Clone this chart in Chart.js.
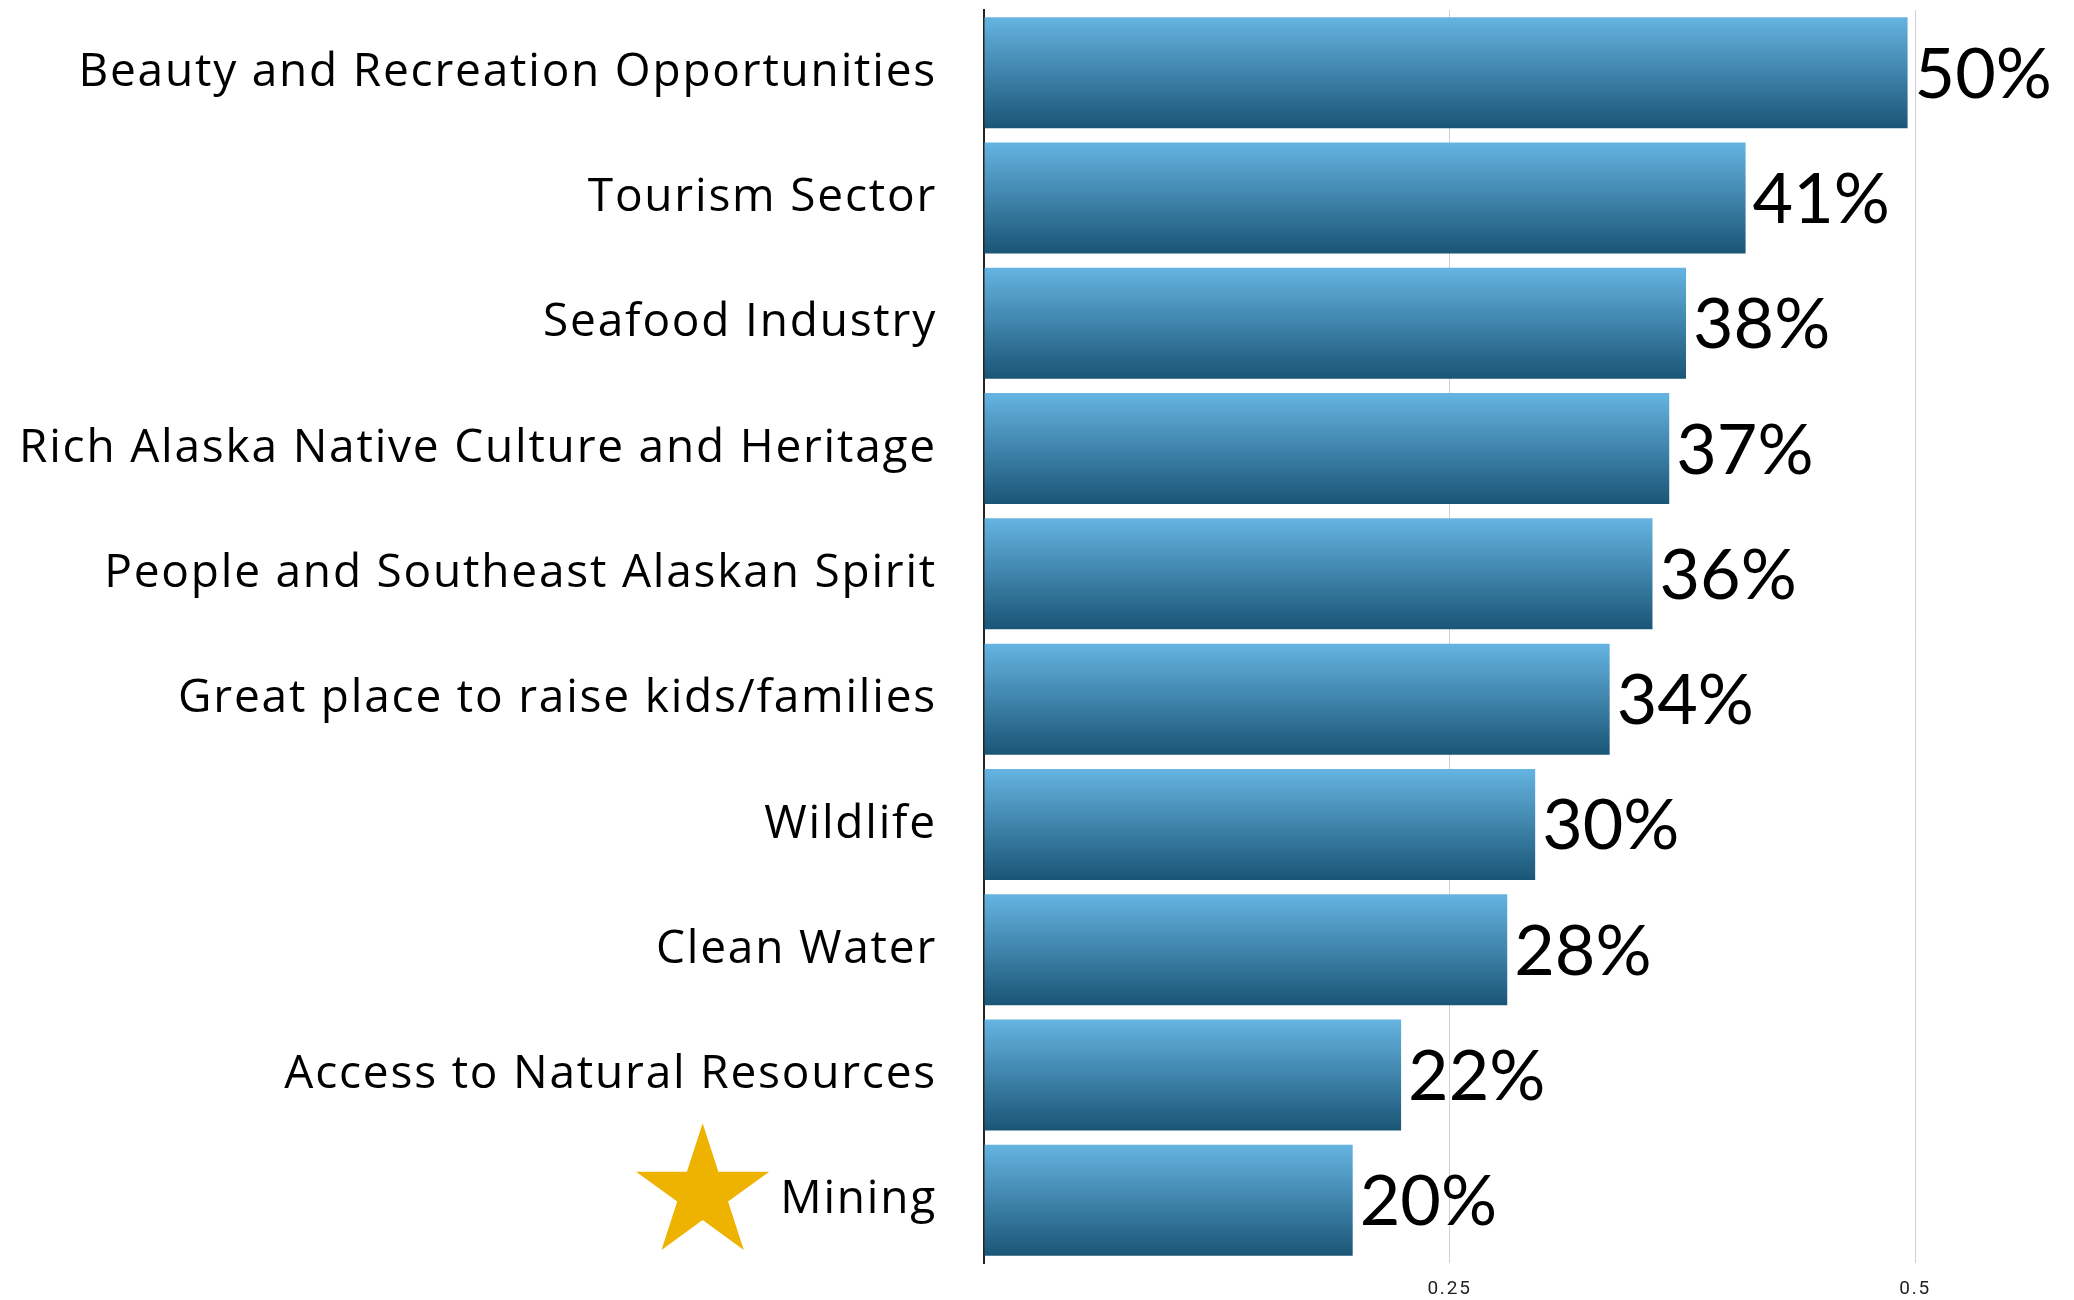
<!DOCTYPE html>
<html>
<head>
<meta charset="utf-8">
<script src="https://cdn.jsdelivr.net/npm/chart.js@4"></script>
<style>
  html, body { margin: 0; padding: 0; background: #fff; }
  #wrap { width: 2074px; height: 1300px; position: relative; }
</style>
</head>
<body>
<div id="wrap"><canvas id="chart"></canvas></div>
<script>
// values (share of respondents)
const categories = [
    'Beauty and Recreation Opportunities',
    'Tourism Sector',
    'Seafood Industry',
    'Rich Alaska Native Culture and Heritage',
    'People and Southeast Alaskan Spirit',
    'Great place to raise kids/families',
    'Wildlife',
    'Clean Water',
    'Access to Natural Resources',
    'Mining'
];
const shares = [0.496, 0.409, 0.377, 0.368, 0.359, 0.336, 0.296, 0.281, 0.224, 0.198];
const xTicks = [0, 0.25, 0.5];
const starredCategory = 'Mining';

const BAR_FRACTION = 0.886;
const CAT_FONT = { family: 'Open Sans', size: 46, weight: 500 };
const CAT_SPACING = '1.8px';
const VALUE_FONT = '70px Lato';

// each bar gets its own light-to-dark vertical gradient
function barGradient(context) {
    const chart = context.chart;
    const y = chart.scales.y;
    if (!y || context.dataIndex === undefined) return '#3f86b0';
    const center = y.getPixelForValue(context.dataIndex);
    const half = (y.height / categories.length) * BAR_FRACTION / 2;
    if (!Number.isFinite(center) || !Number.isFinite(half) || half <= 0) return '#3f86b0';
    const g = chart.ctx.createLinearGradient(0, center - half, 0, center + half);
    g.addColorStop(0, '#65b4e1');
    g.addColorStop(1, '#1a5576');
    return g;
}

// slightly wider category text
const spacing = {
    id: 'spacing',
    beforeUpdate(chart) { chart.ctx.letterSpacing = CAT_SPACING; }
};

// percentage labels at the end of the bars
const valueLabels = {
    id: 'valueLabels',
    afterDatasetsDraw(chart) {
        const ctx = chart.ctx;
        const meta = chart.getDatasetMeta(0);
        ctx.save();
        ctx.letterSpacing = '0px';
        ctx.font = VALUE_FONT;
        ctx.fillStyle = '#000';
        ctx.textAlign = 'left';
        ctx.textBaseline = 'alphabetic';
        meta.data.forEach((bar, i) => {
            const txt = Math.round(shares[i] * 100) + '%';
            ctx.fillText(txt, bar.x + 7, bar.y + 25);
        });
        ctx.restore();
    }
};

// gold star beside the highlighted category
const starMark = {
    id: 'starMark',
    afterDraw(chart) {
        const idx = categories.indexOf(starredCategory);
        if (idx < 0) return;
        const y = chart.scales.y;
        const ctx = chart.ctx;
        ctx.save();
        ctx.font = `${CAT_FONT.weight} ${CAT_FONT.size}px ${CAT_FONT.family}`;
        const w = ctx.measureText(starredCategory).width;
        const R = 70, r = R * 0.382;
        const cx = y.right - y.options.ticks.padding - w - 11 - R * 0.951;
        const cy = y.getPixelForValue(idx) - 7;
        ctx.beginPath();
        for (let k = 0; k < 10; k++) {
            const rad = k % 2 === 0 ? R : r;
            const a = -Math.PI / 2 + k * Math.PI / 5;
            const px = cx + rad * Math.cos(a), py = cy + rad * Math.sin(a);
            if (k === 0) ctx.moveTo(px, py); else ctx.lineTo(px, py);
        }
        ctx.closePath();
        ctx.fillStyle = '#edb300';
        ctx.fill();
        ctx.restore();
    }
};

new Chart(document.getElementById('chart'), {
    type: 'bar',
    data: {
        labels: categories,
        datasets: [{
            data: shares,
            backgroundColor: barGradient,
            borderWidth: 0,
            categoryPercentage: 1,
            barPercentage: BAR_FRACTION
        }]
    },
    options: {
        indexAxis: 'y',
        responsive: true,
        maintainAspectRatio: false,
        animation: false,
        layout: { padding: { top: 10, right: 10, bottom: 0, left: 0 } },
        plugins: { legend: { display: false }, tooltip: { enabled: false } },
        scales: {
            x: {
                min: 0, max: 0.58,
                afterBuildTicks: s => { s.ticks = xTicks.map(v => ({ value: v })); },
                afterFit: s => { s.height = 37; s.paddingLeft = 0; s.paddingRight = 0; },
                grid: {
                    drawTicks: false,
                    color: c => c.tick && c.tick.value === 0 ? 'rgba(0,0,0,0)' : '#d0d0d0',
                    lineWidth: 1
                },
                border: { display: false },
                ticks: {
                    padding: 15,
                    color: '#222',
                    font: { family: 'Roboto', size: 19 },
                    callback: v => v === 0 ? '' : String(v)
                }
            },
            y: {
                afterFit: s => { s.width = 984; s.paddingTop = 0; s.paddingBottom = 0; },
                grid: { display: false, drawTicks: false },
                border: { display: true, color: '#222', width: 2 },
                ticks: {
                    padding: 47,
                    color: '#000',
                    font: CAT_FONT
                }
            }
        }
    },
    plugins: [spacing, valueLabels, starMark]
});
</script>
</body>
</html>
